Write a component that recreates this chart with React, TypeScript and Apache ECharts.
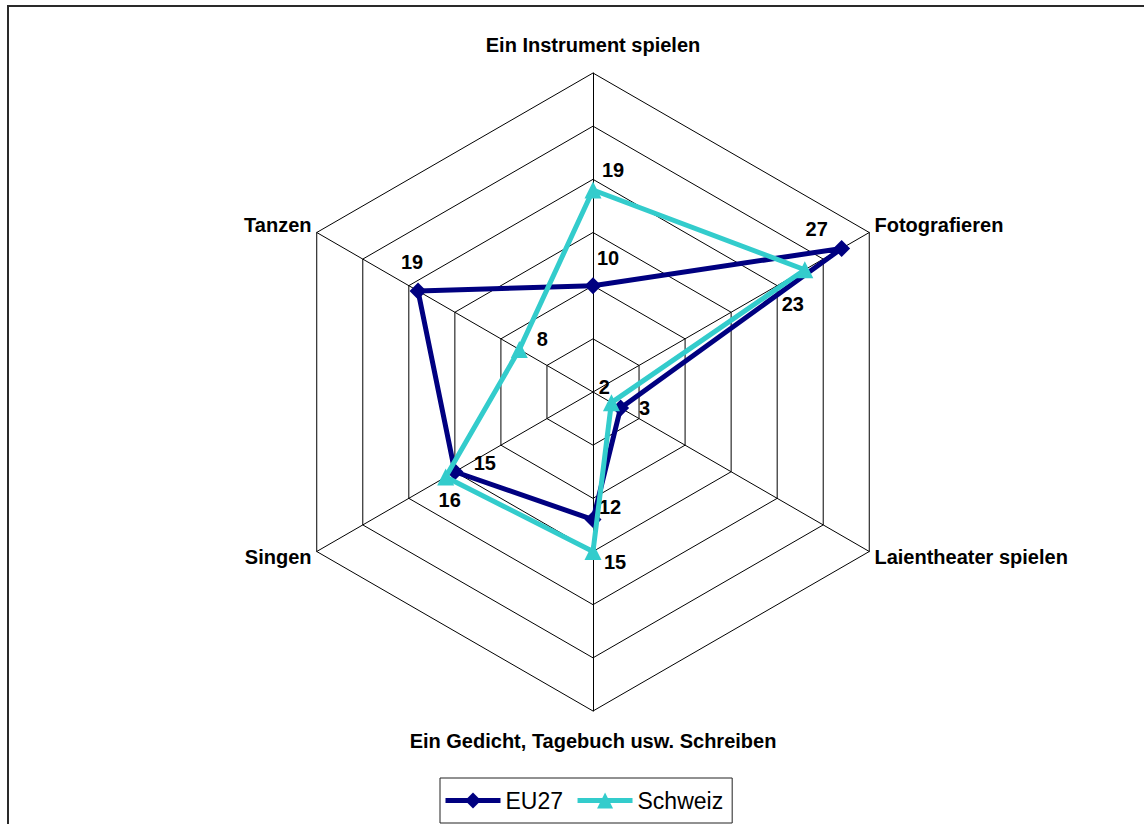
import React, { useEffect, useRef } from "react";
import * as echarts from "echarts";

// Categories in clockwise order starting from the top
const categories = [
  "Ein Instrument spielen",
  "Fotografieren",
  "Laientheater spielen",
  "Ein Gedicht, Tagebuch usw. Schreiben",
  "Singen",
  "Tanzen",
];
const eu27 = [10, 27, 3, 12, 15, 19];
const schweiz = [19, 23, 2, 15, 16, 8];
const axisMin = 0;
const axisMax = 30;
const splitCount = 6;

// label offsets (style) relative to each point
const eu27LabelOffsets = [
  [15, -28],
  [-25, -19],
  [24, 0],
  [17, -13],
  [30, -9],
  [-6, -29],
];
const schweizLabelOffsets = [
  [20, -20],
  [-12, 34],
  [-7, -16],
  [22, 10],
  [4, 23],
  [23, -10],
];

const FONT = "'Liberation Sans', Arial, sans-serif";
const nameRich: Record<string, string> = {
  "Ein Instrument spielen": "top",
  Fotografieren: "up",
  Tanzen: "up",
  "Laientheater spielen": "down",
  Singen: "down",
  "Ein Gedicht, Tagebuch usw. Schreiben": "bottom",
};

function buildData(values: number[], offsets: number[][]) {
  const items: any[] = values.map((v, i) => ({
    value: [v, i],
    label: { show: true, position: "inside", offset: offsets[i] },
  }));
  items.push({
    value: [values[0], categories.length],
    symbol: "none",
    label: { show: false },
  });
  return items;
}

export default function App() {
  const ref = useRef<HTMLDivElement>(null);
  useEffect(() => {
    if (!ref.current) return;
    const chart = echarts.init(ref.current, undefined, { renderer: "svg" });
    const n = categories.length;
    // ECharts radar goes counter-clockwise; reorder so the picture is clockwise
    const radarOrder = [0, ...Array.from({ length: n - 1 }, (_, k) => n - 1 - k)];
    const baseName = {
      color: "#000",
      fontSize: 20,
      fontWeight: "bold" as const,
      fontFamily: FONT,
    };
    const labelStyle = {
      color: "#000",
      fontSize: 20,
      fontWeight: "bold" as const,
      fontFamily: FONT,
      formatter: (p: any) => String(p.value[0]),
    };
    chart.setOption({
      animation: false,
      backgroundColor: "#fff",
      graphic: [
        {
          type: "rect",
          silent: true,
          z: -10,
          shape: { x: 8, y: 6, width: 1400, height: 1000 },
          style: { fill: "none", stroke: "#2a2a2a", lineWidth: 2 },
        },
      ],
      radar: {
        center: [593, 392],
        radius: 319,
        startAngle: 90,
        shape: "polygon",
        splitNumber: splitCount,
        nameGap: 6,
        indicator: radarOrder.map((i) => ({
          name: categories[i],
          min: axisMin,
          max: axisMax,
        })),
        axisName: {
          ...baseName,
          formatter: (name: string) => `{${nameRich[name]}|${name}}`,
          rich: {
            top: { ...baseName, padding: [0, 0, 12, 0] },
            bottom: { ...baseName, padding: [14, 0, 0, 0] },
            up: { ...baseName, padding: [0, 0, 9, 0] },
            down: { ...baseName, padding: [5, 0, 0, 0] },
          },
        },
        axisLine: { show: true, lineStyle: { color: "#000", width: 1 } },
        splitLine: { show: true, lineStyle: { color: "#000", width: 1 } },
        splitArea: { show: false },
        axisTick: { show: false },
        axisLabel: { show: false },
      },
      polar: { center: [593, 392], radius: 319 },
      angleAxis: {
        type: "value",
        min: 0,
        max: n,
        startAngle: 90,
        clockwise: true,
        show: false,
      },
      radiusAxis: {
        type: "value",
        min: axisMin,
        max: axisMax,
        show: false,
      },
      legend: {
        data: ["EU27", "Schweiz"],
        left: 440,
        top: 778,
        orient: "horizontal",
        padding: [11, 9, 11, 3],
        itemWidth: 55,
        itemHeight: 20,
        itemGap: 12,
        borderColor: "#222",
        borderWidth: 1,
        borderRadius: 0,
        lineStyle: { width: 5 },
        textStyle: { color: "#000", fontSize: 23, fontFamily: FONT },
      },
      series: [
        {
          name: "EU27",
          type: "line",
          coordinateSystem: "polar",
          polarIndex: 0,
          z: 3,
          symbol: "diamond",
          symbolSize: 17,
          color: "#000080",
          lineStyle: { color: "#000080", width: 5 },
          itemStyle: { color: "#000080" },
          label: labelStyle,
          data: buildData(eu27, eu27LabelOffsets),
        },
        {
          name: "Schweiz",
          type: "line",
          coordinateSystem: "polar",
          polarIndex: 0,
          z: 4,
          symbol: "triangle",
          symbolSize: 17,
          color: "#33CCCC",
          lineStyle: { color: "#33CCCC", width: 5 },
          itemStyle: { color: "#33CCCC" },
          label: labelStyle,
          data: buildData(schweiz, schweizLabelOffsets),
        },
      ],
    });
    return () => chart.dispose();
  }, []);
  return (
    <div
      ref={ref}
      style={{ position: "absolute", left: 0, top: 0, width: 1144, height: 824 }}
    />
  );
}
